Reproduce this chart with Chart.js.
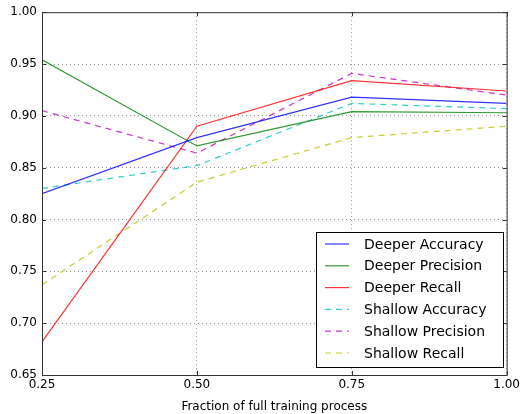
<!DOCTYPE html>
<html>
<head>
<meta charset="utf-8">
<script src="https://cdn.jsdelivr.net/npm/chart.js@4"></script>
<style>
  html, body { margin: 0; padding: 0; background: #fff; }
  #wrap { width: 523px; height: 414px; position: relative; }
</style>
</head>
<body>
<div id="wrap"><canvas id="chart" width="523" height="414"></canvas></div>
<script>
// fraction of full training process
const fractions = [0.25, 0.50, 0.75, 1.00];

const deeperAccuracy = [0.825, 0.879, 0.918, 0.912];
const deeperPrecision = [0.954, 0.871, 0.904, 0.903];
const deeperRecall = [0.682, 0.890, 0.934, 0.924];
const shallowAccuracy = [0.830, 0.852, 0.912, 0.907];
const shallowPrecision = [0.905, 0.864, 0.941, 0.920];
const shallowRecall = [0.737, 0.836, 0.879, 0.890];

const yTicks = [0.65, 0.70, 0.75, 0.80, 0.85, 0.90, 0.95, 1.00];

const FONT = 'DejaVu Sans, sans-serif';

function pts(vals) {
  return vals.map((v, i) => ({ x: fractions[i], y: v }));
}

function series(label, vals, color, dashed) {
  return {
    label,
    data: pts(vals),
    borderColor: color,
    borderWidth: 1.2,
    borderDash: dashed ? [6, 5] : [],
    pointRadius: 0,
    fill: false,
    tension: 0,
  };
}

const datasets = [
  series('Deeper Accuracy', deeperAccuracy, 'rgba(0,0,255,0.8)', false),
  series('Deeper Precision', deeperPrecision, 'rgba(0,128,0,0.8)', false),
  series('Deeper Recall', deeperRecall, 'rgba(255,0,0,0.8)', false),
  series('Shallow Accuracy', shallowAccuracy, 'rgba(0,191,191,0.8)', true),
  series('Shallow Precision', shallowPrecision, 'rgba(191,0,191,0.8)', true),
  series('Shallow Recall', shallowRecall, 'rgba(191,191,0,0.8)', true),
];

// frame + inward ticks + legend box inside plot area
const framePlugin = {
  id: 'frame',
  afterDraw(chart) {
    const { ctx, chartArea: a, scales } = chart;
    ctx.save();
    ctx.strokeStyle = '#333';
    ctx.lineWidth = 1;
    ctx.setLineDash([]);
    ctx.strokeRect(a.left + 0.5, a.top + 0.5, a.right - a.left, a.bottom - a.top);
    ctx.beginPath();
    fractions.forEach(f => {
      const x = Math.round(scales.x.getPixelForValue(f)) + 0.5;
      ctx.moveTo(x, a.bottom); ctx.lineTo(x, a.bottom - 4);
      ctx.moveTo(x, a.top); ctx.lineTo(x, a.top + 4);
    });
    yTicks.forEach(t => {
      const y = Math.round(scales.y.getPixelForValue(t)) + 0.5;
      ctx.moveTo(a.left, y); ctx.lineTo(a.left + 4, y);
      ctx.moveTo(a.right, y); ctx.lineTo(a.right - 4, y);
    });
    ctx.stroke();

    // legend
    const bx = 316, by = 232, bw = 187, bh = 135;
    ctx.fillStyle = '#fff';
    ctx.fillRect(bx, by, bw, bh);
    ctx.strokeStyle = '#000';
    ctx.strokeRect(bx + 0.5, by + 0.5, bw, bh);
    ctx.font = '14px ' + FONT;
    ctx.textBaseline = 'middle';
    chart.data.datasets.forEach((ds, i) => {
      const y = 244 + i * 21.8;
      ctx.strokeStyle = ds.borderColor;
      ctx.lineWidth = 1.2;
      ctx.setLineDash(ds.borderDash.length ? [6, 5] : []);
      ctx.beginPath();
      ctx.moveTo(325, y); ctx.lineTo(349, y);
      ctx.stroke();
      ctx.fillStyle = '#000';
      ctx.fillText(ds.label, 364, y + 1);
    });
    ctx.restore();
  },
};

new Chart(document.getElementById('chart'), {
  type: 'line',
  data: { datasets },
  options: {
    responsive: false,
    animation: false,
    layout: { padding: { top: 12, right: 11, left: 0, bottom: 0 } },
    plugins: { legend: { display: false }, tooltip: { enabled: false } },
    scales: {
      x: {
        type: 'linear',
        min: 0.25,
        max: 1.0,
        afterBuildTicks: s => { s.ticks = fractions.map(v => ({ value: v })); },
        afterFit: s => { s.height = 39; },
        ticks: {
          callback: v => v.toFixed(2),
          color: '#000',
          font: { family: FONT, size: 12 },
          padding: 3,
          maxRotation: 0,
        },
        grid: { color: '#777', lineWidth: 0.8, drawTicks: false },
        border: { display: false, dash: [1, 3] },
        title: {
          display: true,
          text: 'Fraction of full training process',
          color: '#000',
          font: { family: FONT, size: 12 },
          padding: { top: 2, bottom: 0 },
        },
      },
      y: {
        min: 0.65,
        max: 1.0,
        afterBuildTicks: s => { s.ticks = yTicks.map(v => ({ value: v })); },
        afterFit: s => { s.width = 42; },
        ticks: {
          callback: v => v.toFixed(2),
          color: '#000',
          font: { family: FONT, size: 12 },
          padding: 5,
        },
        grid: { color: '#777', lineWidth: 0.8, drawTicks: false },
        border: { display: false, dash: [1, 3] },
      },
    },
  },
  plugins: [framePlugin],
});
</script>
</body>
</html>
